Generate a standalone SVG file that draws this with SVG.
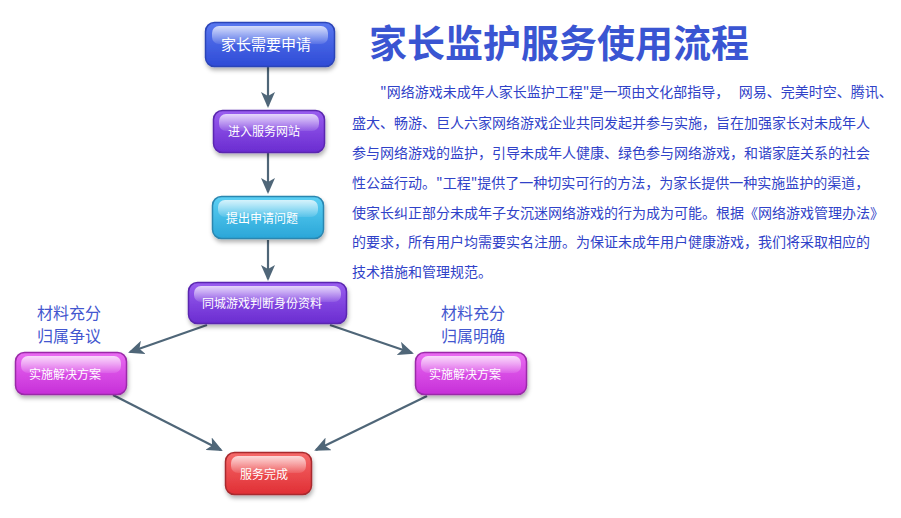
<svg xmlns="http://www.w3.org/2000/svg" width="901" height="518" viewBox="0 0 901 518">
<defs>
<linearGradient id="gBlue" x1="0" y1="0" x2="0" y2="1"><stop offset="0" stop-color="#5a78f0"/><stop offset="1" stop-color="#2e4bd6"/></linearGradient>
<linearGradient id="gPurple" x1="0" y1="0" x2="0" y2="1"><stop offset="0" stop-color="#9a5ef0"/><stop offset="1" stop-color="#6a2cd0"/></linearGradient>
<linearGradient id="gCyan" x1="0" y1="0" x2="0" y2="1"><stop offset="0" stop-color="#5cd0f4"/><stop offset="1" stop-color="#2aa6d8"/></linearGradient>
<linearGradient id="gMag" x1="0" y1="0" x2="0" y2="1"><stop offset="0" stop-color="#ea6cf2"/><stop offset="1" stop-color="#c62ed8"/></linearGradient>
<linearGradient id="gRed" x1="0" y1="0" x2="0" y2="1"><stop offset="0" stop-color="#f66a6a"/><stop offset="1" stop-color="#e02e34"/></linearGradient>
<linearGradient id="gHi" x1="0" y1="0" x2="0" y2="1"><stop offset="0" stop-color="#ffffff" stop-opacity="0.75"/><stop offset="1" stop-color="#ffffff" stop-opacity="0.1"/></linearGradient>
<filter id="sh" x="-20%" y="-20%" width="140%" height="150%"><feDropShadow dx="1" dy="3" stdDeviation="2" flood-color="#000" flood-opacity="0.3"/></filter>
<marker id="ah" markerWidth="16" markerHeight="14" refX="14" refY="7" orient="auto" markerUnits="userSpaceOnUse"><path d="M0,0 L16,7 L0,14 L4,7 z" fill="#4f6678"/></marker>
</defs>
<style>
.box{filter:url(#sh);stroke-width:1.5}
.hi{fill:url(#gHi)}
.nt{font-family:"Noto Sans CJK SC","Noto Sans CJK TC",sans-serif;font-size:12px;fill:#ffffff}
.nt.big{font-size:15px}
.conn line{stroke:#4f6678;stroke-width:2.2;marker-end:url(#ah)}
.side{font-family:"Noto Sans CJK SC",sans-serif;font-size:16px;fill:#4357cf}
.para{font-family:"Noto Sans CJK SC",sans-serif;font-size:14px;fill:#3042c8}
</style>
<rect width="901" height="518" fill="#ffffff"/>
<text x="369" y="57" font-family="'Noto Sans CJK SC',sans-serif" font-size="38" font-weight="bold" fill="#3a55d2">家长监护服务使用流程</text>
<g class="para">
<text x="380" y="97">"网络游戏未成年人家长监护工程"是一项由文化部指导，&#160;&#160;&#160;网易、完美时空、腾讯、</text>
<text x="352" y="128">盛大、畅游、巨人六家网络游戏企业共同发起并参与实施，旨在加强家长对未成年人</text>
<text x="352" y="158">参与网络游戏的监护，引导未成年人健康、绿色参与网络游戏，和谐家庭关系的社会</text>
<text x="352" y="188">性公益行动。"工程"提供了一种切实可行的方法，为家长提供一种实施监护的渠道，</text>
<text x="352" y="218">使家长纠正部分未成年子女沉迷网络游戏的行为成为可能。根据《网络游戏管理办法》</text>
<text x="352" y="247">的要求，所有用户均需要实名注册。为保证未成年用户健康游戏，我们将采取相应的</text>
<text x="352" y="277">技术措施和管理规范。</text>
</g>
<g class="side">
<text x="37" y="319">材料充分</text>
<text x="37" y="342">归属争议</text>
<text x="441" y="319">材料充分</text>
<text x="441" y="342">归属明确</text>
</g>
<g class="conn">
<line x1="268" y1="66" x2="268" y2="106"/>
<line x1="268" y1="153" x2="268" y2="192"/>
<line x1="268" y1="240" x2="268" y2="279"/>
<line x1="207" y1="325" x2="130" y2="352"/>
<line x1="330" y1="325" x2="412" y2="353"/>
<line x1="113" y1="395" x2="221" y2="450"/>
<line x1="427" y1="396" x2="316" y2="450"/>
</g>
<g id="n1">
<rect class="box" x="205.5" y="22.5" width="129" height="44" rx="9" fill="url(#gBlue)" stroke="#2c44b8"/>
<rect class="hi" x="212" y="26" width="116" height="18" rx="7"/>
<text class="nt big" x="221" y="50">家长需要申请</text>
</g>
<g id="n2">
<rect class="box" x="213.5" y="110.5" width="111" height="42" rx="9" fill="url(#gPurple)" stroke="#5a26b0"/>
<rect class="hi" x="219" y="114" width="100" height="17" rx="7"/>
<text class="nt" x="228" y="136">进入服务网站</text>
</g>
<g id="n3">
<rect class="box" x="212.5" y="196.5" width="111" height="42" rx="9" fill="url(#gCyan)" stroke="#2a86b0"/>
<rect class="hi" x="218" y="200" width="100" height="17" rx="7"/>
<text class="nt" x="226" y="223">提出申请问题</text>
</g>
<g id="n4">
<rect class="box" x="188.5" y="282.5" width="158" height="41" rx="9" fill="url(#gPurple)" stroke="#5a26b0"/>
<rect class="hi" x="194" y="286" width="147" height="16" rx="7"/>
<text class="nt" x="202" y="308">同城游戏判断身份资料</text>
</g>
<g id="n5">
<rect class="box" x="15.5" y="352.5" width="111" height="42" rx="9" fill="url(#gMag)" stroke="#9a2aa8"/>
<rect class="hi" x="21" y="356" width="100" height="17" rx="7"/>
<text class="nt" x="29" y="379">实施解决方案</text>
</g>
<g id="n6">
<rect class="box" x="415.5" y="352.5" width="111" height="42" rx="9" fill="url(#gMag)" stroke="#9a2aa8"/>
<rect class="hi" x="421" y="356" width="100" height="17" rx="7"/>
<text class="nt" x="429" y="379">实施解决方案</text>
</g>
<g id="n7">
<rect class="box" x="225.5" y="452.5" width="86" height="42" rx="9" fill="url(#gRed)" stroke="#a82a2e"/>
<rect class="hi" x="231" y="456" width="75" height="17" rx="7"/>
<text class="nt" x="240" y="479">服务完成</text>
</g>
</svg>
